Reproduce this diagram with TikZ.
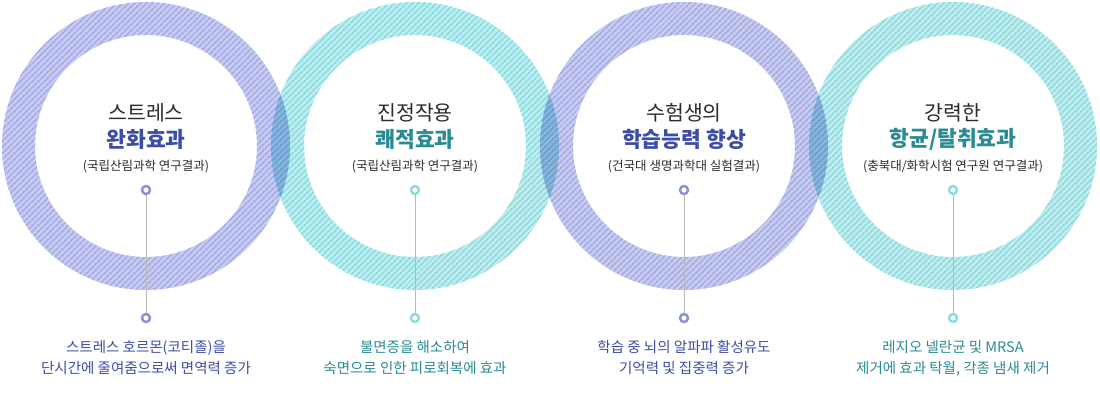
\documentclass[tikz,border=0pt]{standalone}
\usepackage{fontspec}
\setmainfont{Noto Sans CJK KR}
\usetikzlibrary{patterns.meta}
\definecolor{lavring}{HTML}{C9CDF1}
\definecolor{lavline}{HTML}{D3D6F2}
\definecolor{aquaring}{HTML}{C3EEF0}
\definecolor{aqualine}{HTML}{8DDCE2}
\definecolor{lavtext}{HTML}{3C4DA6}
\definecolor{aquatext}{HTML}{2A8B92}
\definecolor{lavdot}{HTML}{8890D6}
\definecolor{aquadot}{HTML}{8ED9E1}
\definecolor{darktext}{HTML}{2B2B2B}

\tikzset{
  head/.style={text=darktext, font=\fontsize{20.5}{24}\selectfont},
  sub/.style={font=\bfseries\fontsize{21.5}{25}\selectfont},
  src/.style={text=darktext, font=\fontsize{12.5}{15}\selectfont},
  note/.style={align=center, font=\fontsize{14.5}{21}\selectfont},
  dot/.style={circle, draw=#1, line width=2.4pt, fill=white, minimum size=8pt, inner sep=0pt},
  stem/.style={draw=black!28, line width=0.8pt},
  stripes/.style={pattern={Lines[angle=45,distance=4pt,line width=2pt]}, pattern color=#1, even odd rule},
}

\begin{document}
\begin{tikzpicture}[x=1pt,y=-1pt]
        \useasboundingbox (0,0) rectangle (1100,400);
        \coordinate (o1) at (146,146);
        \coordinate (o2) at (415,146);
        \coordinate (o3) at (684,146);
        \coordinate (o4) at (953,146);
        % teal rings first, purple rings multiplied over them
        \fill[aquaring, even odd rule] (o2) circle (144) (o2) circle (111);
        \fill[stripes=aqualine] (o2) circle (144) (o2) circle (111);
        \fill[aquaring, even odd rule] (o4) circle (144) (o4) circle (111);
        \fill[stripes=aqualine] (o4) circle (144) (o4) circle (111);
        \begin{scope}[blend mode=multiply]
        \fill[lavring, even odd rule] (o1) circle (144) (o1) circle (111);
        \fill[stripes=lavline] (o1) circle (144) (o1) circle (111);
        \fill[lavring, even odd rule] (o3) circle (144) (o3) circle (111);
        \fill[stripes=lavline] (o3) circle (144) (o3) circle (111);
        \end{scope}
        % titles
        \node[head] (h1) at (146,113) {스트레스};
        \node[sub, text=lavtext] (k1) at (146,139) {완화효과};
        \node[src] (s1) at (146,167) {(국립산림과학 연구결과)};
        \node[head] (h2) at (415,113) {진정작용};
        \node[sub, text=aquatext] (k2) at (415,139) {쾌적효과};
        \node[src] (s2) at (415,167) {(국립산림과학 연구결과)};
        \node[head] (h3) at (684,113) {수험생의};
        \node[sub, text=lavtext] (k3) at (684,139) {학습능력 향상};
        \node[src] (s3) at (684,167) {(건국대 생명과학대 실험결과)};
        \node[head] (h4) at (953,113) {강력한};
        \node[sub, text=aquatext] (k4) at (953,139) {항균/탈취효과};
        \node[src] (s4) at (953,167) {(충북대/화학시험 연구원 연구결과)};
        % dots and stems
        \node[dot=lavdot] (u1) at (146,190) {};
        \node[dot=lavdot] (d1) at (146,318) {};
        \node[dot=aquadot] (u2) at (415,190) {};
        \node[dot=aquadot] (d2) at (415,318) {};
        \node[dot=lavdot] (u3) at (684,190) {};
        \node[dot=lavdot] (d3) at (684,318) {};
        \node[dot=aquadot] (u4) at (953,190) {};
        \node[dot=aquadot] (d4) at (953,318) {};
        \draw[stem] (u1) -- (d1);
        \draw[stem] (u2) -- (d2);
        \draw[stem] (u3) -- (d3);
        \draw[stem] (u4) -- (d4);
        % notes
        \node[note, text=lavtext] (n1) at (146,358) {스트레스 호르몬(코티졸)을\\단시간에 줄여줌으로써 면역력 증가};
        \node[note, text=aquatext] (n2) at (415,358) {불면증을 해소하여\\숙면으로 인한 피로회복에 효과};
        \node[note, text=lavtext] (n3) at (684,358) {학습 중 뇌의 알파파 활성유도\\기억력 및 집중력 증가};
        \node[note, text=aquatext] (n4) at (953,358) {레지오 넬란균 및 MRSA\\제거에 효과 탁월, 각종 냄새 제거};
    \end{tikzpicture}
\end{document}
